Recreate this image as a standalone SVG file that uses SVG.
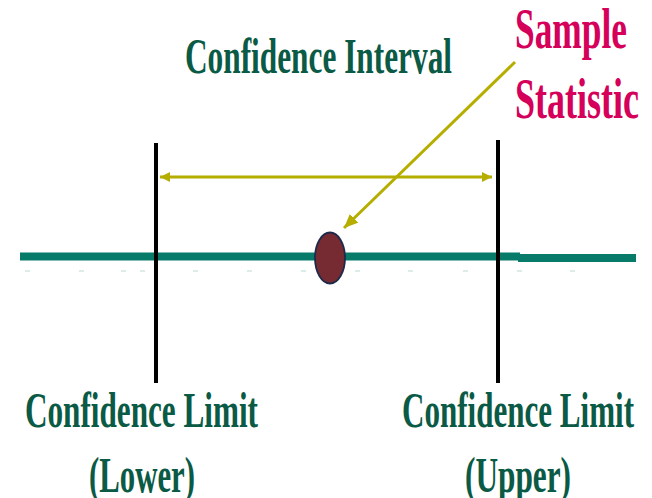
<svg xmlns="http://www.w3.org/2000/svg" width="652" height="498" viewBox="0 0 652 498">
<style>
.lbl{font-family:"Liberation Serif","Times New Roman",serif;font-weight:bold;fill:#0a5a45;}
.stat{font-family:"Liberation Serif","Times New Roman",serif;font-weight:bold;fill:#d4005a;}
.lim{stroke:#000;stroke-width:4;}
.olive{stroke:#b5ae00;stroke-width:3;fill:none;}
.dash{fill:#dcecea;}
</style>
<defs>
<marker id="ah" viewBox="0 0 10 10" refX="10" refY="5" markerWidth="10" markerHeight="10" markerUnits="userSpaceOnUse" orient="auto-start-reverse">
<path d="M0,0 L10,5 L0,10 Z" fill="#b5ae00"/>
</marker>
<marker id="ah2" viewBox="0 0 14 12" refX="14" refY="6" markerWidth="14" markerHeight="12" markerUnits="userSpaceOnUse" orient="auto">
<path d="M0,0 L14,6 L0,12 Z" fill="#b5ae00"/>
</marker>
</defs>
<rect width="652" height="498" fill="#fff"/>
<g id="axis">
<rect x="20" y="252.5" width="500" height="8" fill="#087a6a"/>
<rect x="518" y="254" width="118" height="8" fill="#087a6a"/>
<g class="dash">
<rect x="25" y="270" width="5" height="2"/><rect x="79" y="270" width="5" height="2"/><rect x="121" y="270" width="5" height="2"/><rect x="140" y="270" width="5" height="2"/><rect x="193" y="270" width="5" height="2"/><rect x="247" y="270" width="5" height="2"/><rect x="301" y="270" width="5" height="2"/><rect x="355" y="270" width="5" height="2"/><rect x="408" y="270" width="5" height="2"/><rect x="463" y="270" width="5" height="2"/><rect x="517" y="270" width="5" height="2"/><rect x="570" y="270" width="5" height="2"/>
</g>
</g>
<g id="lower-limit-line"><line class="lim" x1="156" y1="143" x2="156" y2="383"/></g>
<g id="upper-limit-line"><line class="lim" x1="498" y1="140" x2="498" y2="383"/></g>
<g id="connectors">
<line class="olive" x1="160" y1="177" x2="492" y2="177" marker-start="url(#ah)" marker-end="url(#ah)"/>
<line class="olive" x1="515" y1="62" x2="344" y2="228" marker-end="url(#ah2)"/>
</g>
<g id="sample-point"><ellipse cx="330" cy="258" rx="15" ry="25.5" fill="#762a32" stroke="#1e2a4a" stroke-width="1.8"/></g>
<g id="interval-label"><text class="lbl" x="185" y="73" font-size="51" textLength="267" lengthAdjust="spacingAndGlyphs">Confidence Interval</text></g>
<g id="sample-statistic">
<text class="stat" x="515" y="48" font-size="57" textLength="112" lengthAdjust="spacingAndGlyphs">Sample</text>
<text class="stat" x="515" y="118" font-size="57" textLength="124" lengthAdjust="spacingAndGlyphs">Statistic</text>
</g>
<g id="lower-label">
<text class="lbl" x="25" y="427" font-size="50" textLength="233" lengthAdjust="spacingAndGlyphs">Confidence Limit</text>
<text class="lbl" x="89" y="492" font-size="50" textLength="106" lengthAdjust="spacingAndGlyphs">(Lower)</text>
</g>
<g id="upper-label">
<text class="lbl" x="402" y="427" font-size="50" textLength="232" lengthAdjust="spacingAndGlyphs">Confidence Limit</text>
<text class="lbl" x="465" y="492" font-size="50" textLength="106" lengthAdjust="spacingAndGlyphs">(Upper)</text>
</g>
</svg>
